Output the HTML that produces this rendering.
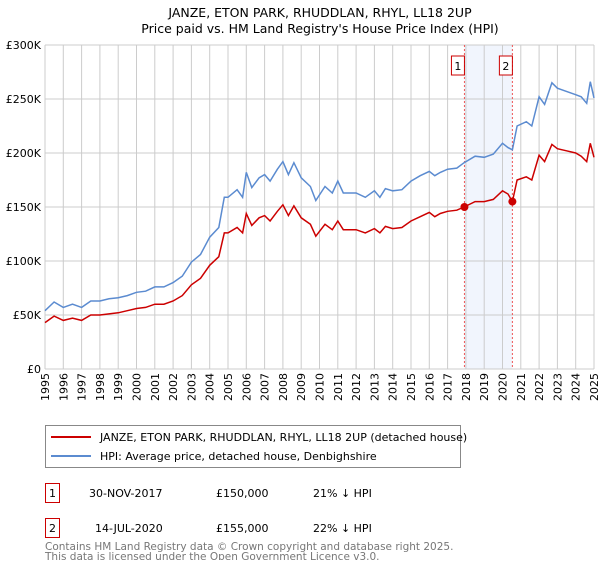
<!DOCTYPE html>
<html><head><meta charset="utf-8"><style>
body{margin:0;background:#fff;font-family:"Liberation Sans","DejaVu Sans",sans-serif;}
svg text{font-family:"DejaVu Sans","Liberation Sans",sans-serif;}
</style></head><body>
<svg id="chart" width="600" height="560" viewBox="0 0 600 560" xmlns="http://www.w3.org/2000/svg">
<text x="320" y="17" text-anchor="middle" font-size="12.5">JANZE, ETON PARK, RHUDDLAN, RHYL, LL18 2UP</text>
<text x="320" y="33" text-anchor="middle" font-size="12.5">Price paid vs. HM Land Registry's House Price Index (HPI)</text>
<g id="grid"></g><g id="axes"></g><g id="series"></g>
<rect x="45.5" y="425.5" width="415" height="42" fill="#fff" stroke="#888"/>
<line x1="51" y1="437" x2="91" y2="437" stroke="#cc0000" stroke-width="2"/>
<text x="100" y="441" font-size="11">JANZE, ETON PARK, RHUDDLAN, RHYL, LL18 2UP (detached house)</text>
<line x1="51" y1="456" x2="91" y2="456" stroke="#5b8bd0" stroke-width="2"/>
<text x="100" y="460" font-size="11">HPI: Average price, detached house, Denbighshire</text>
<rect x="45.5" y="483.5" width="14" height="19" fill="#fff" stroke="#cc0000"/>
<text x="52.5" y="497" text-anchor="middle" font-size="11">1</text>
<text x="89" y="497" font-size="11">30-NOV-2017</text>
<text x="216" y="497" font-size="11">£150,000</text>
<text x="313" y="497" font-size="11">21% ↓ HPI</text>
<rect x="45.5" y="518.5" width="14" height="19" fill="#fff" stroke="#cc0000"/>
<text x="52.5" y="532" text-anchor="middle" font-size="11">2</text>
<text x="95" y="532" font-size="11">14-JUL-2020</text>
<text x="216" y="532" font-size="11">£155,000</text>
<text x="313" y="532" font-size="11">22% ↓ HPI</text>
<text x="45" y="550" font-size="10.5" fill="#777">Contains HM Land Registry data © Crown copyright and database right 2025.</text>
<text x="45" y="560" font-size="10.5" fill="#777">This data is licensed under the Open Government Licence v3.0.</text>
</svg>
<script>
const years=[1995.0,1995.5,1996.0,1996.5,1997.0,1997.5,1998.0,1998.5,1999.0,1999.5,2000.0,2000.5,2001.0,2001.5,2002.0,2002.5,2003.0,2003.5,2004.0,2004.5,2004.8,2005.0,2005.5,2005.8,2006.0,2006.3,2006.7,2007.0,2007.3,2007.7,2008.0,2008.3,2008.6,2009.0,2009.5,2009.8,2010.3,2010.7,2011.0,2011.3,2011.6,2012.0,2012.5,2013.0,2013.3,2013.6,2014.0,2014.5,2015.0,2015.5,2016.0,2016.3,2016.6,2017.0,2017.5,2017.9,2018.5,2019.0,2019.5,2020.0,2020.3,2020.54,2020.8,2021.3,2021.6,2022.0,2022.3,2022.7,2023.0,2023.5,2024.0,2024.3,2024.6,2024.8,2025.0];
const hpiValues=[54,62,57,60,57,63,63,65,66,68,71,72,76,76,80,86,99,106,122,131,159,159,166,159,182,168,177,180,174,185,192,180,191,177,169,156,169,163,174,163,163,163,159,165,159,167,165,166,174,179,183,179,182,185,186,191,197,196,199,209,205,203,225,229,225,252,245,265,260,257,254,252,246,266,251];
const propertyValues=[43,49,45,47,45,50,50,51,52,54,56,57,60,60,63,68,78,84,96,104,126,126,131,126,144,133,140,142,137,146,152,142,151,140,134,123,134,129,137,129,129,129,126,130,126,132,130,131,137,141,145,141,144,146,147,150,155,155,157,165,162,155,175,178,175,198,192,208,204,202,200,197,192,209,196];
const saleYears=[2017.92,2020.54];
const salePrices=[150,155];
const saleLabels=["1","2"];
const yTicks=[0,50,100,150,200,250,300];
const yTickLabels=["£0","£50K","£100K","£150K","£200K","£250K","£300K"];
const xTicks=[1995,1996,1997,1998,1999,2000,2001,2002,2003,2004,2005,2006,2007,2008,2009,2010,2011,2012,2013,2014,2015,2016,2017,2018,2019,2020,2021,2022,2023,2024,2025];

const NS="http://www.w3.org/2000/svg";
const L=45,R=594,T=45,B=369;
const xs=v=>L+(v-1995)/30*(R-L);
const ys=v=>B-v/300*(B-T);
function mk(tag,attrs,parent){const e=document.createElementNS(NS,tag);for(const k in attrs)e.setAttribute(k,attrs[k]);parent.appendChild(e);return e;}
const grid=document.getElementById('grid'),axes=document.getElementById('axes'),series=document.getElementById('series');
const shade=mk('rect',{x:xs(saleYears[0]),y:T,width:xs(saleYears[1])-xs(saleYears[0]),height:B-T,fill:'#eef3fc',opacity:0.8},grid);


xTicks.forEach(t=>{
  const g=mk('line',{x1:xs(t),x2:xs(t),y1:T,y2:B,stroke:'#cccccc','stroke-width':1},grid);
  
  
  const tx=mk('text',{transform:`translate(${xs(t)+4},${B+4}) rotate(-90)`,'text-anchor':'end','font-size':11},axes);
  tx.textContent=String(t);
  
  
});
yTicks.forEach((t,i)=>{
  const g=mk('line',{x1:L,x2:R,y1:ys(t),y2:ys(t),stroke:'#cccccc','stroke-width':1},grid);
  
  
  const tx=mk('text',{x:L-4,y:ys(t)+4,'text-anchor':'end','font-size':11},axes);
  tx.textContent=yTickLabels[i];
  
  
});
saleYears.forEach((s,i)=>{
  const l=mk('line',{x1:xs(s),x2:xs(s),y1:T,y2:B,stroke:'#ee5555','stroke-width':1,'stroke-dasharray':'2,2'},series);
  
  
  const bx=mk('rect',{x:xs(s)-13,y:56,width:13,height:19,fill:'#fff',stroke:'#cc0000'},series);
  
  
  const tx=mk('text',{x:xs(s)-6.5,y:70,'text-anchor':'middle','font-size':11},series);
  tx.textContent=saleLabels[i];
  
  
});
const pts=arr=>arr.map((v,i)=>xs(years[i]).toFixed(1)+','+ys(v).toFixed(1)).join(' ');
const hp=mk('polyline',{points:pts(hpiValues),fill:'none',stroke:'#5b8bd0','stroke-width':1.5},series);


const pp=mk('polyline',{points:pts(propertyValues),fill:'none',stroke:'#cc0000','stroke-width':1.5},series);


saleYears.forEach((s,i)=>{
  const c=mk('circle',{cx:xs(s),cy:ys(salePrices[i]),r:4,fill:'#cc0000'},series);
  
  
});
</script>
</body></html>
